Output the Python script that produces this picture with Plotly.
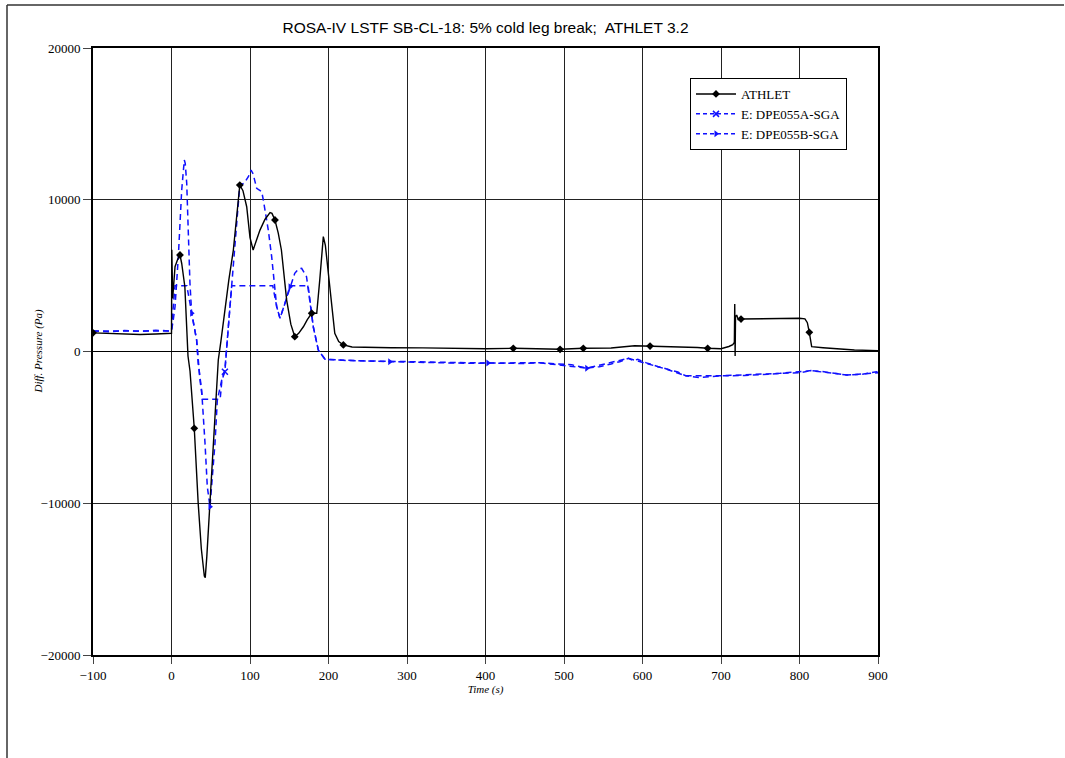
import plotly.graph_objects as go

# ---------------- data ----------------
athlet_t = [-100, -80, -60, -40, -20, -1, 0, 0.4, 1.5, 4.5, 8, 10.8, 13, 17, 19, 21,
            23.6, 25.7, 29, 34, 38, 41.8, 43, 45, 49, 53.3, 57.5, 59.6, 63, 68, 73,
            78.8, 83, 87, 91, 95.8, 100, 104, 108, 112.7, 119, 125.5, 128, 131.8, 136,
            140, 146.7, 152, 157, 162, 168, 173, 178.6, 185, 189, 193.4, 196, 199.8,
            204, 208, 213, 218.9, 230, 250, 280, 320, 360, 400, 435.4, 470, 495, 524.6,
            560, 590, 609.6, 640, 670, 683, 700, 710, 715, 717, 717.5, 718, 718.5, 720,
            722, 725.5, 740, 760, 780, 800, 806.9, 810, 812.5, 815.5, 830, 850, 870, 900]
athlet_p = [1230, 1180, 1130, 1120, 1150, 1200, 1200, 6700, 3500, 5590, 6100, 6360, 5800,
            4270, 2300, -300, -1300, -2540, -5060, -10000, -13000, -14800, -14900, -13500,
            -10000, -6050, -1800, -560, 700, 2730, 4700, 6690, 9000, 10970, 10600, 9540,
            7500, 6690, 7300, 8000, 8700, 9150, 9100, 8665, 7800, 6690, 3390, 1800, 975,
            1200, 1630, 2100, 2520, 2520, 4800, 7570, 7000, 5150, 2800, 1200, 650, 430,
            300, 270, 250, 240, 200, 180, 210, 170, 145, 210, 230, 380, 360, 300, 260,
            210, 180, 330, 450, 600, 3130, -300, 2300, 2400, 2100, 2140, 2150, 2200, 2220,
            2190, 2150, 1900, 1265, 320, 250, 180, 100, 60]
athlet_mark_t = [-100, 10.8, 29, 87, 131.8, 157, 178.6, 218.9, 435.4, 495, 524.6,
                 609.6, 683, 725.5, 812.5]

dpe_a_t = [-100, -60, -20, 0, 1.5, 4.5, 19.5, 25.7, 32, 36.3, 39.5, 62, 64, 65.5, 68,
           72.4, 76.7, 129, 134, 138.2, 144.6, 151, 174, 176.4, 180.6, 187, 195.5, 227,
           250, 300, 400, 469, 529, 582, 631, 655, 700, 775, 815, 860, 900]
dpe_a_p = [1350, 1370, 1390, 1350, 2500, 4330, 4330, 2520, 760, -1880, -3150, -3150,
           -2000, -1700, -1330, 1630, 4330, 4330, 2950, 2190, 3180, 4330, 4330, 3390,
           1630, 100, -510, -600, -620, -700, -760, -740, -1100, -450, -1170, -1600,
           -1600, -1440, -1260, -1550, -1400]
dpe_a_mark_t = [68]

dpe_b_t = [-100, -80, -60, -40, -20, -5, 0, 2, 4.5, 8.7, 13, 16.3, 17.5, 19.4, 21.4,
           23.5, 25.7, 32, 34, 36.3, 38.4, 42.7, 45.6, 49, 52.5, 55.4, 58.4, 64, 68, 72.4,
           76.7, 83, 87, 92.4, 97.9, 101.3, 104, 108.5, 112, 114.9, 117, 123.3, 127.6,
           134, 138.2, 144.6, 151, 157, 162, 165.8, 172, 176.4, 180.6, 187, 195.5, 210,
           227, 250, 278, 300, 323, 350, 380, 403, 430, 450, 469, 490, 510, 529, 545,
           560, 571, 582, 588, 594, 605, 620, 631, 645, 655, 673, 700, 730, 760, 775,
           800, 815, 826, 845, 860, 880, 898, 900]
dpe_b_p = [1350, 1300, 1380, 1330, 1400, 1350, 1350, 2000, 2950, 6250, 10640, 12620,
           12400, 11080, 7350, 4500, 2520, 760, -780, -1880, -2540, -6050, -8900, -10230,
           -7800, -6050, -3200, -1880, -1220, 1630, 4340, 8450, 10970, 11080, 11520,
           11960, 11700, 10750, 10600, 10530, 9980, 8000, 6250, 2950, 2190, 3180, 4270,
           5150, 5450, 5480, 4930, 3390, 1630, 100, -510, -560, -600, -620, -670, -700,
           -690, -730, -780, -760, -800, -790, -740, -800, -880, -1100, -1000, -820,
           -670, -450, -600, -520, -750, -1000, -1170, -1350, -1600, -1720, -1600, -1580,
           -1500, -1440, -1400, -1260, -1300, -1450, -1550, -1500, -1330, -1400]
dpe_b_mark_t = [25.7, 49, 151, 278, 403, 529]

x_ticks = [-100, 0, 100, 200, 300, 400, 500, 600, 700, 800, 900]
y_ticks = [-20000, -10000, 0, 10000, 20000]

title_text = "ROSA-IV LSTF SB-CL-18: 5% cold leg break;  ATHLET 3.2"
x_title = "Time (s)"
y_title = "Diff. Pressure (Pa)"

BLUE = "#1010ff"


def pick(ts, ps, marks):
    xs, ys = [], []
    for t, p in zip(ts, ps):
        if t in marks:
            xs.append(t)
            ys.append(p)
    return xs, ys


fig = go.Figure()

# lines
fig.add_trace(go.Scatter(x=dpe_a_t, y=dpe_a_p, mode="lines", showlegend=False,
                         line=dict(color=BLUE, width=1.5, dash="6px,4px")))
fig.add_trace(go.Scatter(x=dpe_b_t, y=dpe_b_p, mode="lines", showlegend=False,
                         line=dict(color=BLUE, width=1.5, dash="6px,4px")))
fig.add_trace(go.Scatter(x=athlet_t, y=athlet_p, mode="lines", showlegend=False,
                         line=dict(color="black", width=1.4)))

# markers
mx, my = pick(dpe_a_t, dpe_a_p, dpe_a_mark_t)
fig.add_trace(go.Scatter(x=mx, y=my, mode="markers", showlegend=False,
                         marker=dict(symbol="x-thin", size=6, color=BLUE,
                                     line=dict(color=BLUE, width=1.5))))
mx, my = pick(dpe_b_t, dpe_b_p, dpe_b_mark_t)
fig.add_trace(go.Scatter(x=mx, y=my, mode="markers", showlegend=False,
                         marker=dict(symbol="triangle-right", size=6, color=BLUE)))
mx, my = pick(athlet_t, athlet_p, athlet_mark_t)
fig.add_trace(go.Scatter(x=mx, y=my, mode="markers", showlegend=False,
                         marker=dict(symbol="diamond", size=6, color="black")))

# legend entries
fig.add_trace(go.Scatter(x=[None], y=[None], mode="lines+markers", name="ATHLET",
                         line=dict(color="black", width=1.4),
                         marker=dict(symbol="diamond", size=6, color="black")))
fig.add_trace(go.Scatter(x=[None], y=[None], mode="lines+markers", name="E: DPE055A-SGA",
                         line=dict(color=BLUE, width=1.5, dash="4px,3px"),
                         marker=dict(symbol="x-thin", size=6, color=BLUE,
                                     line=dict(color=BLUE, width=1.5))))
fig.add_trace(go.Scatter(x=[None], y=[None], mode="lines+markers", name="E: DPE055B-SGA",
                         line=dict(color=BLUE, width=1.5, dash="4px,3px"),
                         marker=dict(symbol="triangle-right", size=6, color=BLUE)))

L, R, T, B = 93, 878, 48, 655
W, H = 1065, 758
pw, ph = R - L, B - T


def px(x):
    return (x - L) / pw


def py(y):
    return (B - y) / ph


fig.update_layout(
    width=W, height=H,
    margin=dict(l=L, r=W - R, t=T, b=H - B, pad=0),
    paper_bgcolor="white", plot_bgcolor="white",
    title=dict(text=title_text, x=0.5, xref="paper", y=1 - 28 / H, yref="container",
               xanchor="center", yanchor="middle",
               font=dict(family="Liberation Sans Narrow, Liberation Sans, sans-serif",
                         size=15.5, color="black")),
    xaxis=dict(range=[-100, 900], tickvals=x_ticks, showgrid=True, gridcolor="#222",
               gridwidth=1, zeroline=False, showline=True, linecolor="black",
               linewidth=2, mirror=True, ticks="outside", ticklen=7, tickcolor="#444",
               tickformat="d",
               tickfont=dict(family="Liberation Serif, serif", size=13, color="black"),
               title=dict(text="<i>" + x_title + "</i>", standoff=2,
                          font=dict(family="Liberation Serif, serif", size=11,
                                    color="black"))),
    yaxis=dict(range=[-20000, 20000], tickvals=y_ticks, showgrid=True, gridcolor="#222",
               gridwidth=1, zeroline=True, zerolinecolor="black", zerolinewidth=1.2,
               showline=True, linecolor="black", linewidth=2, mirror=True,
               ticks="outside", ticklen=8, tickcolor="#444", tickformat="d",
               tickfont=dict(family="Liberation Serif, serif", size=13, color="black")),
    legend=dict(x=px(690), y=py(78), xanchor="left", yanchor="top",
                bgcolor="white", bordercolor="black", borderwidth=1,
                font=dict(family="Liberation Serif, serif", size=13, color="black"),
                tracegroupgap=0, itemwidth=40),
    showlegend=True,
)

fig.add_annotation(text="<i>" + y_title + "</i>", xref="paper", yref="paper",
                   x=px(38), y=0.5, textangle=-90, showarrow=False,
                   xanchor="center", yanchor="middle",
                   font=dict(family="Liberation Serif, serif", size=11, color="black"))

# page border
fig.add_shape(type="line", xref="paper", yref="paper", x0=px(7), x1=px(1064),
              y0=py(5), y1=py(5), line=dict(color="#333", width=1.5))
fig.add_shape(type="line", xref="paper", yref="paper", x0=px(7), x1=px(7),
              y0=py(5), y1=py(760), line=dict(color="#333", width=1.5))

fig.write_html("out.html")
